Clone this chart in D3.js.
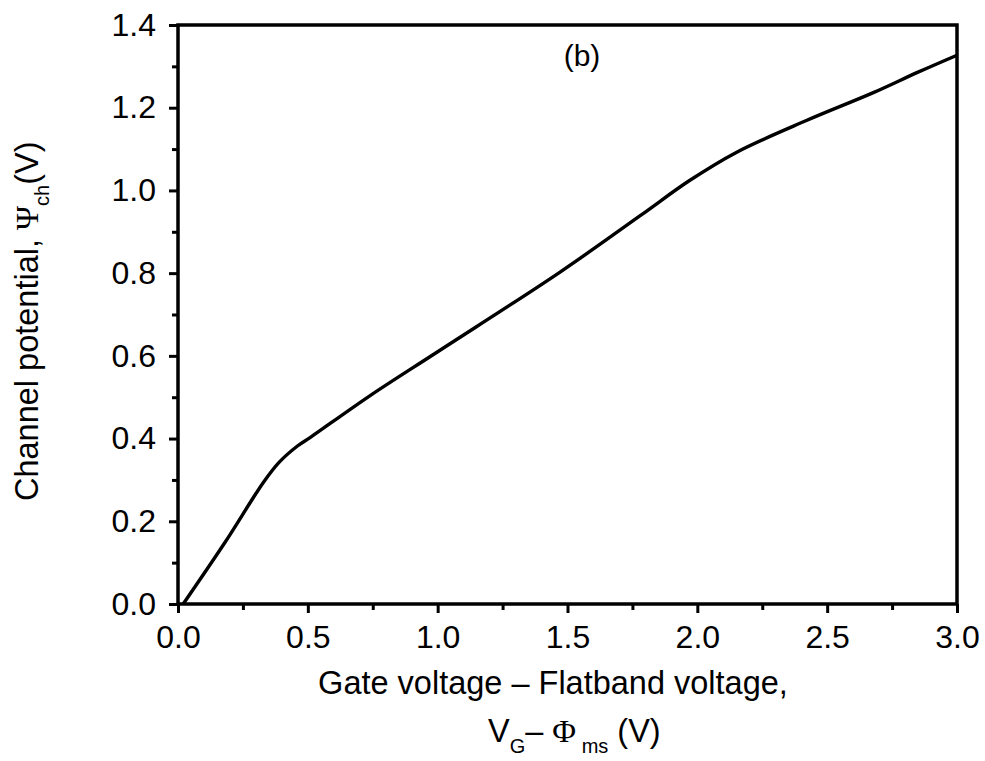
<!DOCTYPE html>
<html>
<head>
<meta charset="utf-8">
<script src="https://cdn.jsdelivr.net/npm/d3@7"></script>
<style>
  html, body { margin: 0; padding: 0; background: #fff; }
  svg { display: block; font-family: "Liberation Sans", Arial, sans-serif; }
</style>
</head>
<body>
<svg id="chart" width="985" height="761"></svg>
<script>
// Data
const gateVoltage = [0.02, 0.18, 0.33, 0.39, 0.46, 0.51, 0.74, 1.00, 1.47, 1.78, 1.97, 2.15, 2.42, 2.68, 2.85, 3.00];
const channelPotential = [0.0, 0.148, 0.295, 0.343, 0.382, 0.403, 0.504, 0.61, 0.802, 0.939, 1.024, 1.092, 1.169, 1.237, 1.286, 1.327];
const xTicks = [0.0, 0.5, 1.0, 1.5, 2.0, 2.5, 3.0];
const yTicks = [0.0, 0.2, 0.4, 0.6, 0.8, 1.0, 1.2, 1.4];
const xMinor = [0.25, 0.75, 1.25, 1.75, 2.25, 2.75];
const yMinor = [0.1, 0.3, 0.5, 0.7, 0.9, 1.1, 1.3];
const panelLabel = "(b)";

const svg = d3.select("#chart");
const L = 178, R = 957, T = 25, B = 604;

const x = d3.scaleLinear().domain([0, 3]).range([L, R]);
const y = d3.scaleLinear().domain([0, 1.4]).range([B, T]);

const tickFont = 32;

// Minor ticks
svg.append("g").attr("transform", `translate(0,${B})`)
  .call(d3.axisBottom(x).tickValues(xMinor).tickSize(6).tickFormat(""))
  .call(g => g.select(".domain").remove())
  .call(g => g.selectAll("line").attr("stroke", "#000").attr("stroke-width", 3));
svg.append("g").attr("transform", `translate(${L},0)`)
  .call(d3.axisLeft(y).tickValues(yMinor).tickSize(6).tickFormat(""))
  .call(g => g.select(".domain").remove())
  .call(g => g.selectAll("line").attr("stroke", "#000").attr("stroke-width", 3));

// Major ticks
const xAxis = svg.append("g").attr("transform", `translate(0,${B})`)
  .call(d3.axisBottom(x).tickValues(xTicks).tickSize(9).tickPadding(12).tickFormat(d3.format(".1f")));
xAxis.select(".domain").remove();
xAxis.selectAll("line").attr("stroke", "#000").attr("stroke-width", 3);
xAxis.selectAll("text").attr("font-size", tickFont).attr("fill", "#000")
  .attr("font-family", "Liberation Sans, Arial, sans-serif");

const yAxis = svg.append("g").attr("transform", `translate(${L},0)`)
  .call(d3.axisLeft(y).tickValues(yTicks).tickSize(9).tickPadding(13).tickFormat(d3.format(".1f")));
yAxis.select(".domain").remove();
yAxis.selectAll("line").attr("stroke", "#000").attr("stroke-width", 3);
yAxis.selectAll("text").attr("font-size", tickFont).attr("fill", "#000")
  .attr("font-family", "Liberation Sans, Arial, sans-serif");

// Frame
svg.append("rect").attr("x", L).attr("y", T).attr("width", R - L).attr("height", B - T)
  .attr("fill", "none").attr("stroke", "#000").attr("stroke-width", 3.5);

// Curve
const pts = gateVoltage.map((v, i) => [v, channelPotential[i]]);
svg.append("path").datum(pts)
  .attr("fill", "none").attr("stroke", "#000").attr("stroke-width", 3.4)
  .attr("stroke-linejoin", "round")
  .attr("d", d3.line().x(d => x(d[0])).y(d => y(d[1])).curve(d3.curveCatmullRom.alpha(0.5)));

// Panel label
svg.append("text").attr("x", 582).attr("y", 66).attr("text-anchor", "middle")
  .attr("font-size", 30).attr("fill", "#000").text(panelLabel);

// X axis title
svg.append("text").attr("x", 553).attr("y", 694).attr("text-anchor", "middle")
  .attr("font-size", 32.5).attr("fill", "#000").text("Gate voltage \u2013 Flatband voltage,");
const t2 = svg.append("text").attr("x", 488).attr("y", 742).attr("font-size", 32.5).attr("fill", "#000");
t2.append("tspan").text("V");
t2.append("tspan").attr("font-size", 20).attr("dy", 11).text("G");
t2.append("tspan").attr("dy", -11).text("\u2013 ");
t2.append("tspan").attr("font-family", "Liberation Serif, serif").text("\u03A6");
t2.append("tspan").attr("font-size", 20).attr("dy", 11).text(" ms");
t2.append("tspan").attr("dy", -11).text(" (V)");

// Y axis title
const yt = svg.append("text").attr("transform", `translate(38,${501}) rotate(-90)`)
  .attr("font-size", 32.5).attr("fill", "#000");
yt.append("tspan").text("Channel potential, ");
yt.append("tspan").attr("font-family", "Liberation Serif, serif").text("\u03A8");
yt.append("tspan").attr("font-size", 20).attr("dy", 11).text("ch");
yt.append("tspan").attr("dy", -11).text("(V)");
</script>
</body>
</html>
